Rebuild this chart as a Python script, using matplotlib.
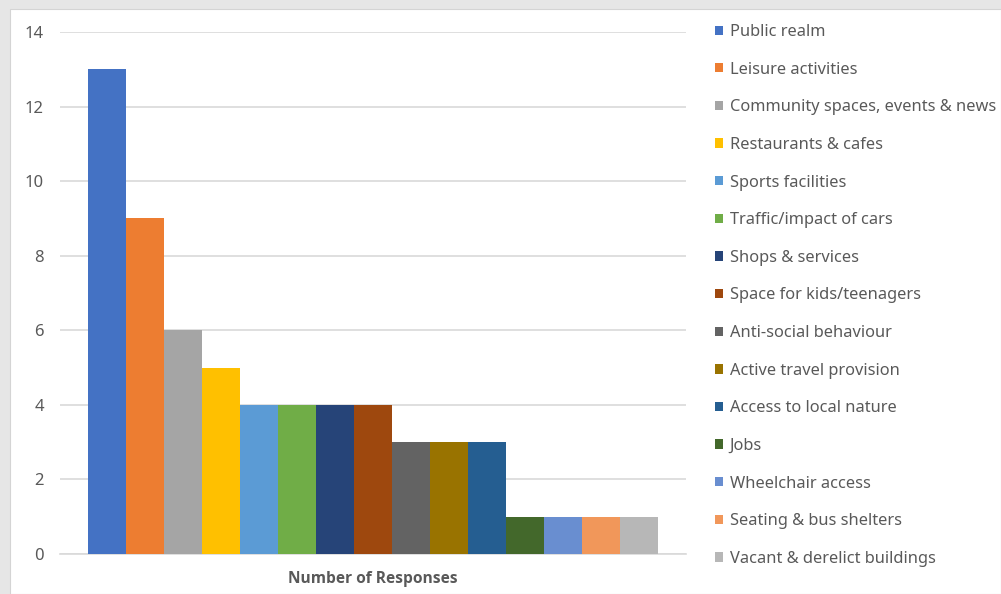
import matplotlib.pyplot as plt
import numpy as np
from matplotlib.patches import Patch, Rectangle

categories = [
    "Public realm",
    "Leisure activities",
    "Community spaces, events & news",
    "Restaurants & cafes",
    "Sports facilities",
    "Traffic/impact of cars",
    "Shops & services",
    "Space for kids/teenagers",
    "Anti-social behaviour",
    "Active travel provision",
    "Access to local nature",
    "Jobs",
    "Wheelchair access",
    "Seating & bus shelters",
    "Vacant & derelict buildings",
]
responses = [13, 9, 6, 5, 4, 4, 4, 4, 3, 3, 3, 1, 1, 1, 1]
colors = [
    "#4472C4", "#ED7D31", "#A5A5A5", "#FFC000", "#5B9BD5",
    "#70AD47", "#264478", "#9E480E", "#636363", "#997300",
    "#255E91", "#43682B", "#698ED0", "#F1975A", "#B7B7B7",
]
y_ticks = [0, 2, 4, 6, 8, 10, 12, 14]

W, H = 1001, 594
plt.rcParams["font.family"] = ["Noto Sans", "DejaVu Sans"]
text_col = "#595959"

fig = plt.figure(figsize=(W / 100, H / 100), dpi=100)
fig.patch.set_facecolor("#e6e6e6")
fig.add_artist(Rectangle((10 / W, 0), 1 - 10 / W, 1 - 9 / H,
                         transform=fig.transFigure, facecolor="white",
                         edgecolor="#d4d4d4", linewidth=0.8, zorder=0))

ax = fig.add_axes([60 / W, 1 - 554 / H, (686 - 60) / W, (554 - 32) / H])
ax.set_facecolor("none")
x = np.arange(len(categories))
ax.bar(x, responses, width=1.0, color=colors, zorder=3)
pad = 28 / 38
ax.set_xlim(-0.5 - pad, len(categories) - 0.5 + pad)
ax.set_ylim(0, 14)
ax.set_yticks(y_ticks)
ax.set_xticks([])
ax.yaxis.grid(True, color="#d9d9d9", linewidth=1.2, zorder=0)
for s in ["top", "right", "left"]:
    ax.spines[s].set_visible(False)
ax.spines["bottom"].set_color("#d9d9d9")
ax.spines["bottom"].set_linewidth(1.2)
ax.tick_params(axis="y", length=0, pad=11.5, labelsize=12, labelcolor=text_col)
ax.set_xlabel("Number of Responses", fontsize=11.2, fontweight="bold",
              fontfamily="Open Sans", color=text_col, labelpad=12)

handles = [Patch(facecolor=c, edgecolor="none") for c in colors]
fig.legend(handles, categories, loc="upper left",
           bbox_to_anchor=(715 / W, 1 - 24 / H), frameon=False,
           fontsize=11.8, labelcolor=text_col, handlelength=0.5,
           handleheight=0.5, handletextpad=0.4, labelspacing=1.32,
           borderaxespad=0, borderpad=0)

fig.savefig("out.png", dpi=100, facecolor=fig.get_facecolor())
